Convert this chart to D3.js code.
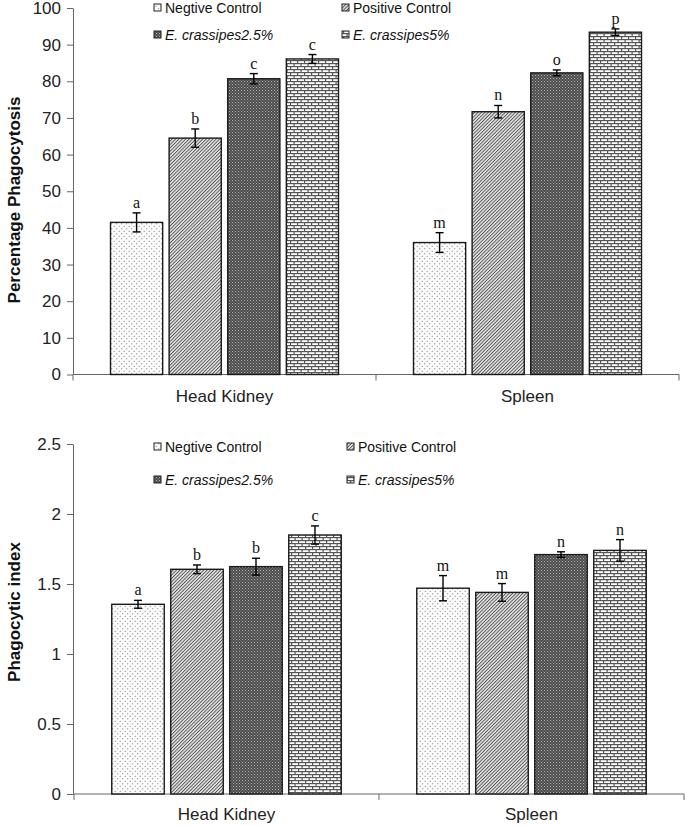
<!DOCTYPE html>
<html>
<head>
<meta charset="utf-8">
<script src="https://cdn.jsdelivr.net/npm/d3@7"></script>
<style>
  html, body { margin: 0; padding: 0; background: #fff; }
  svg { display: block; }
</style>
</head>
<body>
<svg id="chart" width="685" height="826"></svg>
<script>
// ---------------- DATA ----------------
const categories = ["Head Kidney", "Spleen"];
const seriesNames = ["Negtive Control", "Positive Control", "E. crassipes2.5%", "E. crassipes5%"];

const phagoValues  = [[41.5, 64.5, 80.7, 86.1], [36.0, 71.7, 82.3, 93.4]];
const phagoErrors  = [[2.6, 2.5, 1.4, 1.2], [2.7, 1.7, 0.8, 0.9]];
const phagoLetters = [["a", "b", "c", "c"], ["m", "n", "o", "p"]];
const phagoTicks   = [0, 10, 20, 30, 40, 50, 60, 70, 80, 90, 100];

const indexValues  = [[1.355, 1.605, 1.624, 1.85], [1.47, 1.44, 1.71, 1.74]];
const indexErrors  = [[0.028, 0.031, 0.06, 0.065], [0.09, 0.063, 0.02, 0.077]];
const indexLetters = [["a", "b", "b", "c"], ["m", "m", "n", "n"]];
const indexTicks   = [0, 0.5, 1, 1.5, 2, 2.5];

// ---------------- SETUP ----------------
const svg = d3.select("#chart");
const defs = svg.append("defs");
const SANS = "'Liberation Sans', Arial, sans-serif";
const SERIF = "'Liberation Serif', 'Times New Roman', serif";

// Patterns
function makePatterns() {
  // 0: dots
  let p = defs.append("pattern").attr("id", "pat0").attr("patternUnits", "userSpaceOnUse")
    .attr("width", 5).attr("height", 5);
  p.append("rect").attr("width", 5).attr("height", 5).attr("fill", "#fbfbfb");
  p.append("circle").attr("cx", 1.2).attr("cy", 1.2).attr("r", 0.55).attr("fill", "#666");
  p.append("circle").attr("cx", 3.7).attr("cy", 3.7).attr("r", 0.55).attr("fill", "#666");

  // 1: diagonal lines
  p = defs.append("pattern").attr("id", "pat1").attr("patternUnits", "userSpaceOnUse")
    .attr("width", 2.4).attr("height", 2.4).attr("patternTransform", "rotate(45)");
  p.append("rect").attr("width", 2.4).attr("height", 2.4).attr("fill", "#e6e6e6");
  p.append("rect").attr("x", 0).attr("width", 0.9).attr("height", 2.4).attr("fill", "#505050");

  // 2: dark checker
  p = defs.append("pattern").attr("id", "pat2").attr("patternUnits", "userSpaceOnUse")
    .attr("width", 3).attr("height", 3);
  p.append("rect").attr("width", 3).attr("height", 3).attr("fill", "#484848");
  p.append("rect").attr("x", 0).attr("y", 0).attr("width", 1.1).attr("height", 1.1).attr("fill", "#b0b0b0");
  p.append("rect").attr("x", 1.5).attr("y", 1.5).attr("width", 1.1).attr("height", 1.1).attr("fill", "#959595");

  // 3: bricks
  p = defs.append("pattern").attr("id", "pat3").attr("patternUnits", "userSpaceOnUse")
    .attr("width", 7).attr("height", 6);
  p.append("rect").attr("width", 7).attr("height", 6).attr("fill", "#ffffff");
  p.append("rect").attr("x", 0).attr("y", 0).attr("width", 7).attr("height", 1.2).attr("fill", "#555");
  p.append("rect").attr("x", 0).attr("y", 3).attr("width", 7).attr("height", 1.2).attr("fill", "#555");
  p.append("rect").attr("x", 0).attr("y", 0).attr("width", 1.2).attr("height", 3).attr("fill", "#555");
  p.append("rect").attr("x", 3.5).attr("y", 3).attr("width", 1.2).attr("height", 3).attr("fill", "#555");
}
makePatterns();

function drawChart(cfg) {
  const g = svg.append("g");
  const x0 = d3.scaleBand().domain(categories).range(cfg.xRange).paddingInner(0).paddingOuter(0);
  const x1 = d3.scaleBand().domain(seriesNames).range([0, x0.bandwidth()])
    .paddingInner(0.11).paddingOuter(0.64);
  const y = d3.scaleLinear().domain(cfg.yDomain).range(cfg.yRange);

  // y axis
  const yAxis = d3.axisLeft(y).tickValues(cfg.ticks).tickSize(6).tickSizeOuter(0).tickPadding(6)
    .tickFormat(d => String(d));
  const ya = g.append("g").attr("transform", `translate(${cfg.yAxisX},0)`).call(yAxis);
  ya.selectAll("path, line").attr("stroke", "#666").attr("stroke-width", 1);
  ya.selectAll("text").attr("font-family", SANS).attr("font-size", 17).attr("fill", "#222");

  // x axis baseline & ticks
  const xa = g.append("g");
  xa.append("line").attr("x1", cfg.yAxisX).attr("x2", cfg.xRange[1])
    .attr("y1", y(0)).attr("y2", y(0)).attr("stroke", "#666").attr("stroke-width", 1);
  const edges = [cfg.xRange[0]].concat(categories.map(c => x0(c) + x0.bandwidth()));
  xa.selectAll(".xt").data(edges).enter().append("line")
    .attr("x1", d => d).attr("x2", d => d).attr("y1", y(0)).attr("y2", y(0) + 6)
    .attr("stroke", "#666").attr("stroke-width", 1);
  xa.selectAll(".xl").data(categories).enter().append("text")
    .attr("x", d => x0(d) + x0.bandwidth() / 2).attr("y", cfg.catLabelY)
    .attr("text-anchor", "middle").attr("font-family", SANS).attr("font-size", 17).attr("fill", "#222")
    .text(d => d);

  // bars
  categories.forEach((c, ci) => {
    const gg = g.append("g").attr("transform", `translate(${x0(c)},0)`);
    seriesNames.forEach((s, si) => {
      const v = cfg.values[ci][si], e = cfg.errors[ci][si];
      const bx = x1(s), bw = x1.bandwidth(), cx = bx + bw / 2;
      gg.append("rect").attr("x", bx).attr("y", y(v)).attr("width", bw).attr("height", y(0) - y(v))
        .attr("fill", `url(#pat${si})`).attr("stroke", "#1a1a1a").attr("stroke-width", 1.4);
      gg.append("line").attr("x1", cx).attr("x2", cx).attr("y1", y(v + e)).attr("y2", y(v - e))
        .attr("stroke", "#000").attr("stroke-width", 1.4);
      [v + e, v - e].forEach(t => {
        gg.append("line").attr("x1", cx - 4).attr("x2", cx + 4).attr("y1", y(t)).attr("y2", y(t))
          .attr("stroke", "#000").attr("stroke-width", 1.4);
      });
      gg.append("text").attr("x", cx).attr("y", y(v + e) - 5).attr("text-anchor", "middle")
        .attr("font-family", SERIF).attr("font-size", 16).attr("fill", "#111")
        .text(cfg.letters[ci][si]);
    });
  });

  // y title
  g.append("text").attr("transform", `translate(${cfg.titleX},${cfg.titleY}) rotate(-90)`)
    .attr("text-anchor", "middle").attr("font-family", SANS).attr("font-size", 17)
    .attr("font-weight", "bold").attr("fill", "#111").text(cfg.title);

  // legend
  const lg = g.append("g");
  seriesNames.forEach((s, si) => {
    const col = si % 2, row = Math.floor(si / 2);
    const lx = cfg.legendX[col], ly = cfg.legendY[row];
    lg.append("rect").attr("x", lx).attr("y", ly - 9).attr("width", 7).attr("height", 7)
      .attr("fill", `url(#pat${si})`).attr("stroke", "#222").attr("stroke-width", 1);
    lg.append("text").attr("x", lx + 11).attr("y", ly).attr("font-family", SANS).attr("font-size", 14)
      .attr("font-style", si >= 2 ? "italic" : "normal").attr("fill", "#111").text(s);
  });
}

drawChart({
  xRange: [73, 679], yAxisX: 73, yDomain: [0, 100], yRange: [374.5, 8], ticks: phagoTicks,
  values: phagoValues, errors: phagoErrors, letters: phagoLetters,
  catLabelY: 402, title: "Percentage Phagocytosis", titleX: 20, titleY: 200,
  legendX: [154, 342], legendY: [13, 40]
});

drawChart({
  xRange: [74, 684], yAxisX: 73, yDomain: [0, 2.5], yRange: [794, 444], ticks: indexTicks,
  values: indexValues, errors: indexErrors, letters: indexLetters,
  catLabelY: 820, title: "Phagocytic index", titleX: 20, titleY: 612,
  legendX: [154, 347], legendY: [452, 485]
});
</script>
</body>
</html>
